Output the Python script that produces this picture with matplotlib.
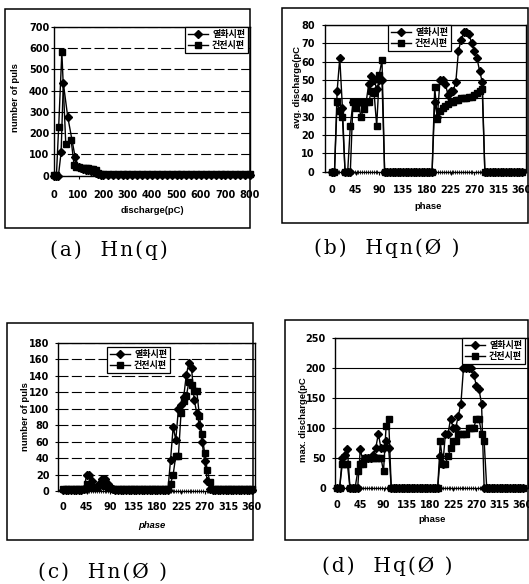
import matplotlib
matplotlib.use('Agg')
import matplotlib.pyplot as plt
import numpy as np
from matplotlib.patches import Rectangle

# ---------------- data ----------------
legend_labels = ['열화시편', '건전시편']

# (a) Hn(q): number of pulses vs discharge (pC)
a_deg_x = [0, 10, 18, 29, 38, 56, 86, 100, 110, 120, 130, 140, 150, 160, 170, 180, 190, 200,
           220, 240, 260, 280, 300, 320, 340, 360, 380, 400, 420, 440, 460, 480, 500,
           520, 540, 560, 580, 600, 620, 640, 660, 680, 700, 720, 740, 760, 780, 800]
a_deg_y = [0, 0, 0, 110, 435, 277, 89, 40, 35, 30, 28, 25, 22, 20, 15, 8, 5, 4,
           4, 4, 4, 4, 4, 4, 4, 4, 4, 4, 4, 4, 4, 4, 4,
           4, 4, 4, 4, 4, 4, 4, 4, 4, 4, 4, 4, 4, 4, 4]
a_snd_x = [0, 10, 19, 32, 48, 70, 82, 90, 100, 110, 120, 130, 140, 150, 160, 170, 180, 190, 200,
           220, 240, 260, 280, 300, 320, 340, 360, 380, 400, 420, 440, 460, 480, 500,
           520, 540, 560, 580, 600, 620, 640, 660, 680, 700, 720, 740, 760, 780, 800]
a_snd_y = [5, 5, 227, 581, 150, 167, 50, 40, 40, 38, 36, 35, 34, 32, 30, 25, 15, 8, 6,
           6, 6, 6, 6, 6, 6, 6, 6, 6, 6, 6, 6, 6, 6, 6,
           6, 6, 6, 6, 6, 6, 6, 6, 6, 6, 6, 6, 6, 6, 6]

# phase bins (deg) shared by (b), (c), (d)
phase = np.arange(0, 361, 5)

# (b) Hqn(phi): average discharge
b_deg = [0, 0, 44, 62, 35, 0, 0, 0, 38, 38, 38, 38, 38, 38, 48, 52, 50, 45, 50, 50, 0,
         0, 0, 0, 0, 0, 0, 0, 0, 0, 0, 0, 0, 0, 0, 0, 0, 0, 0,
         38, 30, 50, 50, 48, 42, 44, 44, 49, 66, 72, 76, 76, 75, 70, 66, 62, 55, 49,
         0, 0, 0, 0, 0, 0, 0, 0, 0, 0, 0, 0, 0, 0, 0]
b_snd = [0, 0, 38, 33, 30, 0, 0, 25, 38, 35, 38, 30, 34, 38, 38, 44, 43, 25, 53, 61, 0,
         0, 0, 0, 0, 0, 0, 0, 0, 0, 0, 0, 0, 0, 0, 0, 0, 0, 0,
         46, 29, 33, 35, 36, 37, 38, 38, 39, 39, 40, 40, 40, 41, 41, 42, 43, 44, 45,
         0, 0, 0, 0, 0, 0, 0, 0, 0, 0, 0, 0, 0, 0, 0]

# (c) Hn(phi): number of pulses
c_deg = [1, 1, 1, 1, 1, 1, 1, 1, 2, 20, 20, 12, 5, 5, 10, 15, 15, 8, 5, 3, 1,
         1, 1, 1, 1, 1, 1, 1, 1, 1, 1, 1, 1, 1, 1, 1, 1, 1, 1,
         1, 1, 38, 78, 62, 100, 104, 114, 141, 156, 150, 111, 95, 80, 60, 36, 12, 2, 1,
         1, 1, 1, 1, 1, 1, 1, 1, 1, 1, 1, 1, 1, 1, 1]
c_snd = [2, 2, 2, 2, 2, 2, 2, 2, 2, 8, 5, 5, 4, 5, 7, 8, 6, 5, 4, 3, 2,
         2, 2, 2, 2, 2, 2, 2, 2, 2, 2, 2, 2, 2, 2, 2, 2, 2, 2,
         2, 2, 9, 20, 43, 43, 95, 110, 115, 133, 129, 122, 122, 91, 69, 46, 25, 11, 2,
         2, 2, 2, 2, 2, 2, 2, 2, 2, 2, 2, 2, 2, 2, 2]

# (d) Hq(phi): maximum discharge
d_deg = [0, 0, 49, 55, 64, 0, 0, 0, 0, 64, 45, 50, 50, 50, 55, 66, 90, 66, 66, 77, 66,
         0, 0, 0, 0, 0, 0, 0, 0, 0, 0, 0, 0, 0, 0, 0, 0, 0, 0,
         0, 52, 40, 90, 90, 115, 100, 100, 120, 140, 200, 200, 200, 200, 188, 170, 164, 140, 0,
         0, 0, 0, 0, 0, 0, 0, 0, 0, 0, 0, 0, 0, 0, 0]
d_snd = [0, 0, 39, 39, 39, 0, 0, 0, 27, 39, 39, 50, 50, 50, 50, 50, 50, 50, 27, 102, 114,
         0, 0, 0, 0, 0, 0, 0, 0, 0, 0, 0, 0, 0, 0, 0, 0, 0, 0,
         0, 77, 40, 40, 52, 66, 77, 78, 90, 90, 90, 90, 100, 100, 100, 115, 115, 90, 78,
         0, 0, 0, 0, 0, 0, 0, 0, 0, 0, 0, 0, 0, 0, 0]

captions = ['(a)  Hn(q)', '(b)  Hqn(Ø )', '(c)  Hn(Ø )', '(d)  Hq(Ø )']

# ---------------- figure ----------------
W, H = 529, 584
fig = plt.figure(figsize=(W / 100, H / 100), dpi=100)
fig.patch.set_facecolor('white')

TICKFONT = dict(family='DejaVu Sans', weight='bold', size=7)
LABFONT = dict(family='Liberation Sans', weight='bold', size=6.8)
LEGFONT = dict(family=['Noto Sans CJK KR', 'DejaVu Sans'], weight='bold', size=6.5)


def ax_at(l, t, r, b):
    return fig.add_axes([l / W, 1 - b / H, (r - l) / W, (b - t) / H])


def box(l, t, r, b):
    fig.patches.append(Rectangle((l / W, 1 - b / H), (r - l) / W, (b - t) / H,
                                 transform=fig.transFigure, fill=False,
                                 edgecolor='black', linewidth=1.1))


def style(ax, xlim, ylim, xticks, yticks, grid_ls, xpad, ypad, minor=False):
    ax.set_xlim(*xlim)
    ax.set_ylim(*ylim)
    ax.set_xticks(xticks)
    ax.set_yticks(yticks)
    ax.set_xticklabels([str(v) for v in xticks], fontdict=TICKFONT)
    ax.set_yticklabels([str(v) for v in yticks], fontdict=TICKFONT)
    ax.tick_params(direction='out', length=2.5, width=0.8, color='black')
    ax.tick_params(axis='x', pad=xpad)
    ax.tick_params(axis='y', pad=ypad)
    if minor:
        ax.set_xticks(np.arange(0, 361, 3.6), minor=True)
        ax.tick_params(axis='x', which='minor', direction='inout', length=3, width=0.6)
    ax.yaxis.grid(True, color='black', linewidth=0.8, linestyle=grid_ls)
    ax.set_axisbelow(True)
    for s in ax.spines.values():
        s.set_linewidth(1.0)
        s.set_color('black')
    ax.set_facecolor('white')


def series(ax, x1, y1, x2, y2, anchor):
    ax.plot(x1, y1, color='black', lw=1.0, marker='D', ms=3.8, clip_on=False,
            label=legend_labels[0], zorder=3)
    ax.plot(x2, y2, color='black', lw=1.0, marker='s', ms=4.8, clip_on=False,
            label=legend_labels[1], zorder=3)
    leg = ax.legend(loc='upper left', bbox_to_anchor=(anchor[0] / W, 1 - anchor[1] / H),
                    bbox_transform=fig.transFigure, prop=LEGFONT, frameon=True,
                    fancybox=False, framealpha=1, edgecolor='black', borderpad=0.3,
                    handlelength=2.3, handletextpad=0.4, labelspacing=0.3,
                    borderaxespad=0, numpoints=1)
    leg.get_frame().set_linewidth(0.9)
    leg.set_zorder(5)


dashed = (0, (9, 3))

# (a)
box(5, 9, 250, 228)
axa = ax_at(54, 26.7, 250, 175.7)
style(axa, (0, 800), (0, 700), list(range(0, 801, 100)), list(range(0, 701, 100)),
      dashed, xpad=8, ypad=1)
series(axa, a_deg_x, a_deg_y, a_snd_x, a_snd_y, (185, 27))
fig.text(15 / W, 1 - 98 / H, 'number of puls', rotation=90, ha='center', va='center', **LABFONT)
fig.text(152 / W, 1 - 211 / H, 'discharge(pC)', ha='center', va='center', **LABFONT)

# (b)
box(282, 8, 528, 223)
axb = ax_at(325, 25, 526, 171.7)
style(axb, (-13, 368), (0, 80), list(range(0, 361, 45)), list(range(0, 81, 10)),
      '-', xpad=7, ypad=5, minor=True)
series(axb, phase, b_deg, phase, b_snd, (388, 25))
fig.text(298 / W, 1 - 87 / H, 'avg. discharge(pC', rotation=90, ha='center', va='center', **LABFONT)
fig.text(428 / W, 1 - 207 / H, 'phase', ha='center', va='center', **LABFONT)

# (c)
box(7, 323, 253, 540)
axc = ax_at(58.3, 343, 255, 491)
style(axc, (-9, 366), (0, 180), list(range(0, 361, 45)), list(range(0, 181, 20)),
      dashed, xpad=5.5, ypad=4, minor=True)
series(axc, phase, c_deg, phase, c_snd, (107, 347))
fig.text(25 / W, 1 - 417 / H, 'number of puls', rotation=90, ha='center', va='center', **LABFONT)
fig.text(152 / W, 1 - 525 / H, 'phase', ha='center', va='center', style='italic', **LABFONT)

# (d)
box(285, 320, 528, 540)
axd = ax_at(335, 337.7, 528, 487.7)
style(axd, (-4, 370), (0, 250), list(range(0, 361, 45)), list(range(0, 251, 50)),
      '-', xpad=6, ypad=4, minor=True)
series(axd, phase, d_deg, phase, d_snd, (462, 338))
fig.text(303 / W, 1 - 420 / H, 'max. discharge(pC', rotation=90, ha='center', va='center', **LABFONT)
fig.text(432 / W, 1 - 520 / H, 'phase', ha='center', va='center', **LABFONT)

# captions (hair spaces widen the letter spacing like the printed caption)
cap_pos = [(109, 250), (387, 248), (102, 572), (387, 566)]
for (cx, cy), txt in zip(cap_pos, captions):
    spaced = '\u200a'.join(txt)
    fig.text(cx / W, 1 - cy / H, spaced, ha='center', va='center',
             family='DejaVu Serif', size=14.5)

fig.savefig('out.png', dpi=100, facecolor='white')
